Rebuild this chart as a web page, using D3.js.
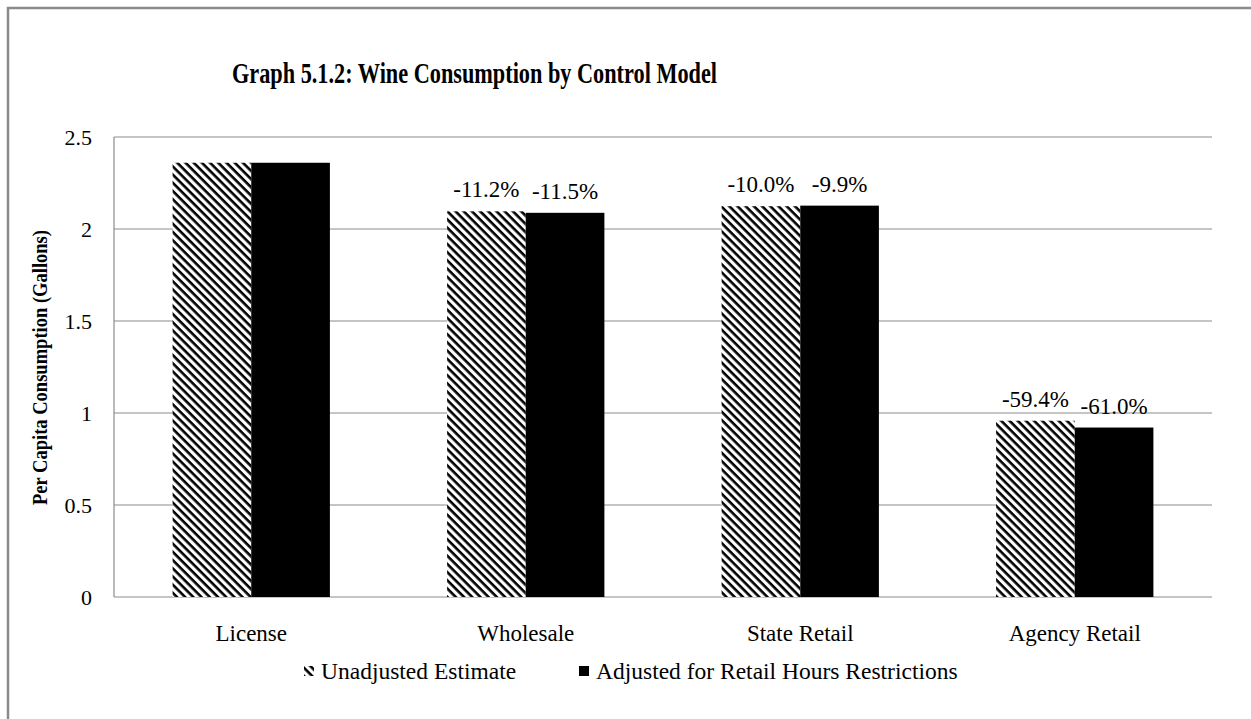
<!DOCTYPE html>
<html>
<head>
<meta charset="utf-8">
<script src="https://cdn.jsdelivr.net/npm/d3@7"></script>
<style>
  body { margin: 0; background: #fff; }
  text { font-family: "Liberation Serif", "Times New Roman", serif; fill: #000; }
</style>
</head>
<body>
<script>
// SVG Size
var width = 1251,
    height = 719;

// Data
var categories = ["License", "Wholesale", "State Retail", "Agency Retail"];
var seriesNames = ["Unadjusted Estimate", "Adjusted for Retail Hours Restrictions"];
var unadjusted = [2.36, 2.096, 2.124, 0.958];
var adjusted = [2.36, 2.088, 2.127, 0.921];
var unadjustedLabels = ["", "-11.2%", "-10.0%", "-59.4%"];
var adjustedLabels = ["", "-11.5%", "-9.9%", "-61.0%"];
var yTicks = [0, 0.5, 1, 1.5, 2, 2.5];

var margin = {left: 114, right: 1212, top: 137, bottom: 597};

var svg = d3.select("body").append("svg")
  .attr("width", width)
  .attr("height", height);

// Hatch pattern (wide downward diagonal)
var defs = svg.append("defs");
var pat = defs.append("pattern")
  .attr("id", "hatch")
  .attr("patternUnits", "userSpaceOnUse")
  .attr("width", 5.8)
  .attr("height", 5.8)
  .attr("patternTransform", "rotate(45)");
pat.append("rect").attr("width", 5.8).attr("height", 5.8).attr("fill", "#fff");
pat.append("rect").attr("x", 0).attr("y", 0).attr("width", 5.8).attr("height", 2.6).attr("fill", "#000");

// Outer frame
svg.append("rect")
  .attr("x", 8).attr("y", 8)
  .attr("width", 1300).attr("height", 760)
  .attr("fill", "none")
  .attr("stroke", "#8a8a8a")
  .attr("stroke-width", 2.5);

// Scales
var x = d3.scaleBand()
  .domain(categories)
  .range([margin.left, margin.right]);

var y = d3.scaleLinear()
  .domain([0, 2.5])
  .range([margin.bottom, margin.top]);

var barW = x.bandwidth() * 0.2865;

// Gridlines
svg.append("g")
  .selectAll("line")
  .data(yTicks)
  .enter()
  .append("line")
    .attr("x1", margin.left)
    .attr("x2", margin.right)
    .attr("y1", function(d){ return y(d); })
    .attr("y2", function(d){ return y(d); })
    .attr("stroke", "#8c8c8c")
    .attr("stroke-width", 1.2);

// Y axis line
svg.append("line")
  .attr("x1", margin.left).attr("x2", margin.left)
  .attr("y1", margin.top).attr("y2", margin.bottom)
  .attr("stroke", "#8c8c8c")
  .attr("stroke-width", 1.2);

// Y tick labels
svg.append("g")
  .selectAll("text")
  .data(yTicks)
  .enter()
  .append("text")
    .attr("x", 92)
    .attr("y", function(d){ return y(d) + 8; })
    .attr("text-anchor", "end")
    .style("font-size", "22px")
    .text(function(d){ return d; });

// Bars
var groups = svg.append("g")
  .selectAll("g")
  .data(categories)
  .enter()
  .append("g");

groups.append("rect")
  .attr("x", function(d){ return x(d) + x.bandwidth() / 2 - barW; })
  .attr("y", function(d, i){ return y(unadjusted[i]); })
  .attr("width", barW)
  .attr("height", function(d, i){ return y(0) - y(unadjusted[i]); })
  .attr("fill", "url(#hatch)");

groups.append("rect")
  .attr("x", function(d){ return x(d) + x.bandwidth() / 2; })
  .attr("y", function(d, i){ return y(adjusted[i]); })
  .attr("width", barW)
  .attr("height", function(d, i){ return y(0) - y(adjusted[i]); })
  .attr("fill", "#000");

// Value labels
groups.append("text")
  .attr("x", function(d){ return x(d) + x.bandwidth() / 2 - barW / 2; })
  .attr("y", function(d, i){ return y(unadjusted[i]) - 14; })
  .attr("text-anchor", "middle")
  .style("font-size", "23px")
  .text(function(d, i){ return unadjustedLabels[i]; });

groups.append("text")
  .attr("x", function(d){ return x(d) + x.bandwidth() / 2 + barW / 2; })
  .attr("y", function(d, i){ return y(adjusted[i]) - 14; })
  .attr("text-anchor", "middle")
  .style("font-size", "23px")
  .text(function(d, i){ return adjustedLabels[i]; });

// Category labels
groups.append("text")
  .attr("x", function(d){ return x(d) + x.bandwidth() / 2; })
  .attr("y", 641)
  .attr("text-anchor", "middle")
  .style("font-size", "23px")
  .text(function(d){ return d; });

// Title
svg.append("text")
  .attr("x", 232)
  .attr("y", 83)
  .attr("textLength", 485)
  .attr("lengthAdjust", "spacingAndGlyphs")
  .style("font-size", "30px")
  .style("font-weight", "bold")
  .text("Graph 5.1.2: Wine Consumption by Control Model");

// Y axis title
svg.append("text")
  .attr("transform", "translate(47,505) rotate(-90)")
  .attr("textLength", 275)
  .attr("lengthAdjust", "spacingAndGlyphs")
  .style("font-size", "22px")
  .style("font-weight", "bold")
  .text("Per Capita Consumption (Gallons)");

// Legend
var legendX = [304, 579];
var legendFill = ["url(#hatch)", "#000"];
var legend = svg.append("g")
  .selectAll("g")
  .data(seriesNames)
  .enter()
  .append("g")
    .attr("transform", function(d, i){ return "translate(" + legendX[i] + ",666)"; });

legend.append("rect")
  .attr("width", 10).attr("height", 10)
  .attr("fill", function(d, i){ return legendFill[i]; });

legend.append("text")
  .attr("x", 17)
  .attr("y", 13)
  .style("font-size", "23.5px")
  .text(function(d){ return d; });
</script>
</body>
</html>
